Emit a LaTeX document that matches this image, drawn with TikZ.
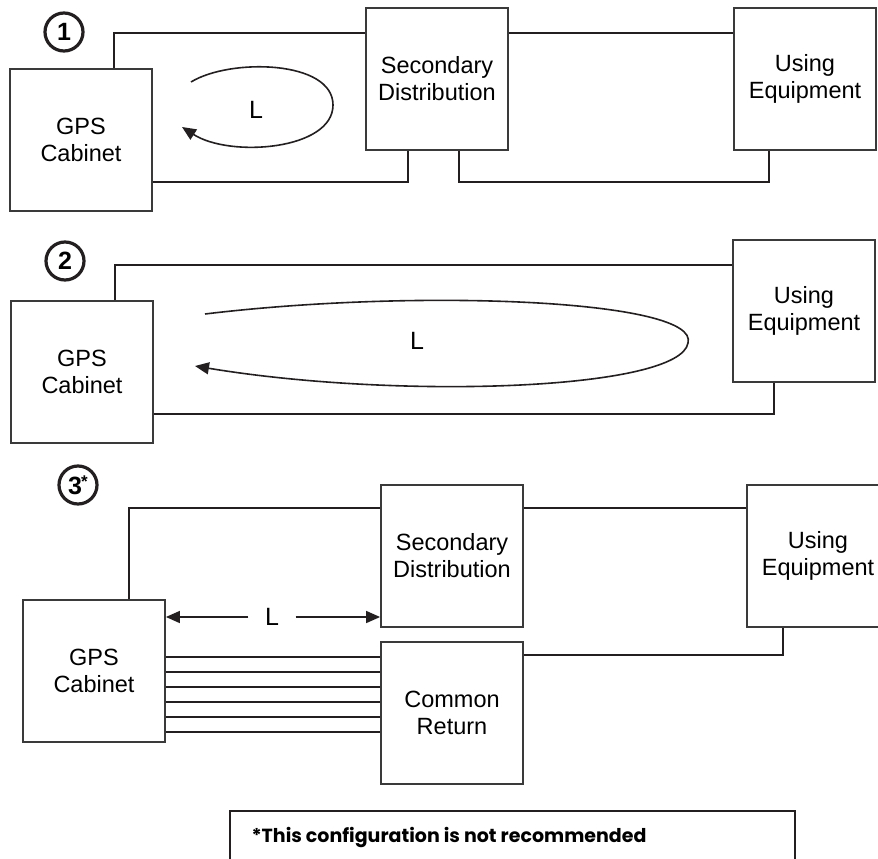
\documentclass[tikz,border=0pt]{standalone}
\usepackage{fontspec}
\setmainfont{Liberation Sans}
\newfontfamily\notefont{Poppins}
\usetikzlibrary{arrows.meta,calc}
\definecolor{ink}{HTML}{231F20}
\definecolor{boxline}{HTML}{3A3A3A}
\begin{document}
\begin{tikzpicture}[x=1pt,y=-1pt,
  box/.style={draw=boxline,line width=1.8pt,minimum width=142pt,minimum height=142pt,inner sep=0pt,align=center,font=\fontsize{23.5}{27}\selectfont},
  wire/.style={draw=ink,line width=1.8pt},
  tip/.style={-{Triangle[length=14pt,width=12pt]}},
  lbl/.style={font=\fontsize{25}{27}\selectfont,inner sep=0pt},
  num/.style={circle,draw=ink,line width=3.2pt,minimum size=38pt,inner sep=0pt,font=\fontsize{25}{27}\selectfont\bfseries}]
\useasboundingbox (0,0) rectangle (878,859);
\clip (0,0) rectangle (878,859);
\fill[white] (0,0) rectangle (878,859);

% ---------- Diagram 1 ----------
\node[num] (n1) at (64,32) {1};
\node[box] (gps1) at (81,140) {GPS\\Cabinet};
\node[box] (sd1) at (437,79) {Secondary\\Distribution};
\node[box] (ue1) at (805,79) {Using\\Equipment};
\draw[wire] ([xshift=105pt]gps1.north west) |- ([yshift=-26pt]sd1.north west);
\draw[wire] ([yshift=-26pt]sd1.north east) -- ([yshift=-26pt]ue1.north west);
\draw[wire] ([xshift=43pt]sd1.south west) |- ([yshift=30pt]gps1.south east);
\draw[wire] ([xshift=94pt]sd1.south west) |- ([xshift=36pt,yshift=-31pt]ue1.south west) -- ([xshift=36pt]ue1.south west);
\node[lbl] (L1) at (256,110) {L};
\coordinate (a1) at (191,82);
\coordinate (b1) at (333,105);
\coordinate (e1) at (182,127);
\draw[wire,line width=1.6pt,tip] (a1) .. controls (230,58) and (333,60) .. (b1) .. controls (333,150) and (230,158) .. (e1);

% ---------- Diagram 2 ----------
\node[num] (n2) at (65,261) {2};
\node[box] (gps2) at (82,372) {GPS\\Cabinet};
\node[box] (ue2) at (804,311) {Using\\Equipment};
\draw[wire] ([xshift=105pt]gps2.north west) |- ([yshift=-26pt]ue2.north west);
\draw[wire] ([yshift=30pt]gps2.south east) -| ([xshift=42pt]ue2.south west);
\node[lbl] (L2) at (417,341) {L};
\coordinate (a2) at (205,314);
\coordinate (b2) at (688,343);
\coordinate (e2) at (195,366);
\draw[wire,line width=1.6pt,tip] (a2) .. controls (420,288) and (700,300) .. (b2) .. controls (680,390) and (400,400) .. (e2);

% ---------- Diagram 3 ----------
\node[num] (n3) at (78,485) {3\kern-1pt\raisebox{7pt}{\fontsize{17}{17}\selectfont *}};
\node[box] (gps3) at (94,671) {GPS\\Cabinet};
\node[box] (sd3) at (452,556) {Secondary\\Distribution};
\node[box] (ue3) at (818,556) {Using\\Equipment};
\node[box] (cr) at (452,713) {Common\\Return};
\draw[wire] ([xshift=107pt]gps3.north west) |- ([yshift=-24pt]sd3.north west);
\draw[wire] ([yshift=-24pt]sd3.north east) -- ([yshift=-24pt]ue3.north west);
\draw[wire] ([yshift=-14pt]cr.north east) -| ([xshift=37pt]ue3.south west);
\foreach \d in {11,26,41,56,71,86}
  \draw[wire,line width=1.5pt] ([yshift=\d pt]gps3.south east) -- ([yshift=\d pt]gps3.south east -| cr.west);
\node[lbl,minimum width=47pt] (L3) at (272,617) {L};
\draw[wire,line width=1.5pt,tip] (L3.west) -- (L3.west -| gps3.east);
\draw[wire,line width=1.5pt,tip] (L3.east) -- (L3.east -| sd3.west);

% ---------- Note ----------
\node[draw=ink,line width=1.8pt,minimum width=565pt,minimum height=100pt,inner sep=0pt] (notebox) at (512.5,861) {};
\node[font=\notefont\bfseries\fontsize{19}{21}\selectfont,inner sep=0pt] (note) at (449,837) {*This configuration is not recommended};
\end{tikzpicture}
\end{document}
